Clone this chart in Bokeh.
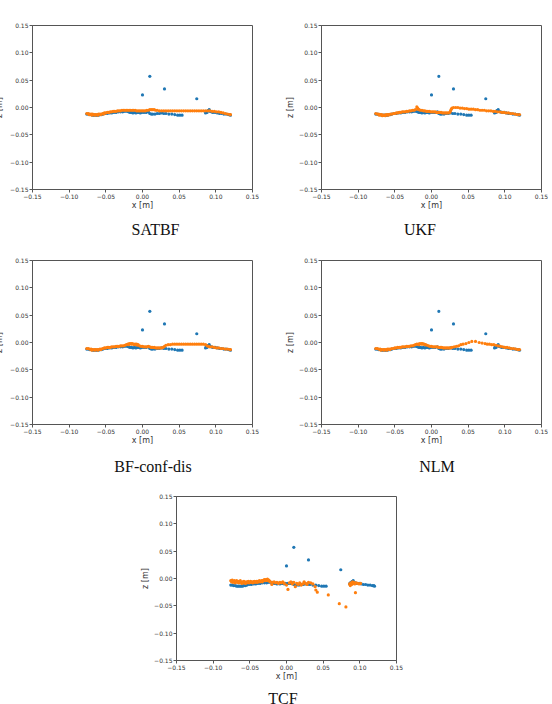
from bokeh.plotting import figure
from bokeh.layouts import column, row
from bokeh.models import FixedTicker, Label, Spacer
from bokeh.embed import file_html
from bokeh.resources import INLINE

# Shared axis ticks (both axes span -0.15 .. 0.15 m)
TICKS = [-0.15, -0.10, -0.05, 0.0, 0.05, 0.10, 0.15]
TICK_LABELS = ["\u22120.15", "\u22120.10", "\u22120.05", "0.00", "0.05", "0.10", "0.15"]

CAPTIONS = ["SATBF", "UKF", "BF-conf-dis", "NLM", "TCF"]

BLUE = "#1f77b4"
ORANGE = "#ff7f0e"

# Reference profile (blue), identical in every panel
REF_X = [-0.076, -0.074, -0.072, -0.070, -0.068, -0.066, -0.064, -0.062, -0.060, -0.058,
         -0.056, -0.054, -0.051, -0.048, -0.045, -0.042, -0.039, -0.036, -0.033, -0.030,
         -0.027, -0.024, -0.021, -0.019, -0.017, -0.015, -0.013, -0.011, -0.009, -0.007,
         -0.005, -0.003, -0.001, 0.002, 0.005, 0.008, 0.010, 0.012, 0.014, 0.017,
         0.020, 0.023, 0.026, 0.029, 0.032, 0.036, 0.040, 0.044, 0.048, 0.051, 0.054,
         0.086, 0.087, 0.088, 0.089, 0.090, 0.091, 0.092, 0.094, 0.096, 0.099,
         0.102, 0.105, 0.108, 0.111, 0.114, 0.117, 0.119, 0.120,
         0.000, 0.010, 0.030, 0.074]
REF_Z = [-0.012, -0.012, -0.013, -0.013, -0.014, -0.014, -0.014, -0.014, -0.014, -0.013,
         -0.013, -0.012, -0.011, -0.011, -0.010, -0.010, -0.009, -0.009, -0.008, -0.008,
         -0.008, -0.007, -0.007, -0.008, -0.009, -0.009, -0.010, -0.009, -0.010, -0.009,
         -0.009, -0.010, -0.009, -0.009, -0.009, -0.008, -0.011, -0.012, -0.012, -0.012,
         -0.011, -0.011, -0.010, -0.011, -0.011, -0.012, -0.012, -0.013, -0.014, -0.014, -0.014,
         -0.010, -0.008, -0.009, -0.006, -0.005, -0.004, -0.007, -0.008, -0.009, -0.009,
         -0.010, -0.011, -0.011, -0.012, -0.012, -0.013, -0.013, -0.014,
         0.023, 0.057, 0.034, 0.016]

# SATBF estimate
SATBF_X = [-0.076, -0.074, -0.072, -0.070, -0.068, -0.066, -0.064, -0.062, -0.060, -0.058,
           -0.056, -0.054, -0.052, -0.050, -0.048, -0.046, -0.044, -0.042, -0.040, -0.038,
           -0.036, -0.034, -0.032, -0.030, -0.028, -0.026, -0.024, -0.022, -0.020, -0.018,
           -0.016, -0.014, -0.012, -0.010, -0.008, -0.006, -0.004, -0.002, 0.000, 0.002,
           0.004, 0.006, 0.008, 0.010, 0.012, 0.014, 0.016, 0.018, 0.020, 0.023,
           0.026, 0.029, 0.032, 0.035, 0.038, 0.041, 0.044, 0.047, 0.050, 0.053,
           0.056, 0.059, 0.062, 0.065, 0.068, 0.071, 0.074, 0.077, 0.080, 0.083,
           0.086, 0.089, 0.092, 0.095, 0.098, 0.101, 0.104, 0.107, 0.110, 0.113,
           0.116, 0.119, 0.120,
           -0.073, -0.069, -0.065, -0.061, -0.057, -0.053]
SATBF_Z = [-0.011, -0.011, -0.012, -0.012, -0.012, -0.013, -0.013, -0.013, -0.012, -0.012,
           -0.012, -0.011, -0.010, -0.010, -0.009, -0.009, -0.008, -0.008, -0.007, -0.007,
           -0.007, -0.006, -0.006, -0.006, -0.005, -0.005, -0.005, -0.005, -0.005, -0.005,
           -0.005, -0.005, -0.005, -0.005, -0.006, -0.006, -0.006, -0.006, -0.006, -0.006,
           -0.006, -0.005, -0.005, -0.004, -0.004, -0.004, -0.004, -0.005, -0.005, -0.006,
           -0.006, -0.006, -0.006, -0.006, -0.006, -0.006, -0.006, -0.006, -0.006, -0.006,
           -0.006, -0.006, -0.006, -0.006, -0.006, -0.006, -0.006, -0.006, -0.006, -0.006,
           -0.006, -0.006, -0.006, -0.007, -0.007, -0.008, -0.008, -0.009, -0.010, -0.011,
           -0.012, -0.013, -0.013,
           -0.013, -0.014, -0.014, -0.014, -0.013, -0.012]

# UKF estimate
UKF_X = [-0.076, -0.074, -0.072, -0.070, -0.068, -0.066, -0.064, -0.062, -0.060, -0.058,
         -0.056, -0.054, -0.052, -0.050, -0.048, -0.046, -0.044, -0.042, -0.040, -0.038,
         -0.036, -0.034, -0.032, -0.030, -0.028, -0.026, -0.024, -0.022, -0.020, -0.019,
         -0.018, -0.017, -0.015, -0.013, -0.011, -0.009, -0.007, -0.005, -0.003, -0.001,
         0.001, 0.003, 0.005, 0.007, 0.009, 0.011, 0.013, 0.015, 0.017, 0.019,
         0.021, 0.023, 0.025, 0.026, 0.027, 0.028, 0.030, 0.033, 0.036, 0.039,
         0.042, 0.045, 0.048, 0.051, 0.054, 0.057, 0.060, 0.063, 0.066, 0.069,
         0.072, 0.075, 0.078, 0.081, 0.084, 0.087, 0.090, 0.093, 0.096, 0.099,
         0.102, 0.105, 0.108, 0.111, 0.114, 0.117, 0.120,
         -0.071, -0.067, -0.063, -0.059]
UKF_Z = [-0.011, -0.012, -0.012, -0.013, -0.013, -0.014, -0.014, -0.013, -0.013, -0.013,
         -0.012, -0.012, -0.011, -0.011, -0.010, -0.010, -0.009, -0.009, -0.008, -0.008,
         -0.008, -0.007, -0.007, -0.006, -0.006, -0.005, -0.005, -0.004, 0.001, -0.001,
         -0.003, -0.004, -0.005, -0.005, -0.006, -0.006, -0.007, -0.007, -0.007, -0.008,
         -0.008, -0.008, -0.008, -0.009, -0.009, -0.009, -0.009, -0.010, -0.010, -0.010,
         -0.010, -0.010, -0.009, -0.006, -0.003, -0.001, 0.000, 0.000, 0.000, -0.001,
         -0.001, -0.002, -0.002, -0.003, -0.003, -0.003, -0.004, -0.004, -0.005, -0.005,
         -0.005, -0.006, -0.006, -0.006, -0.007, -0.007, -0.008, -0.008, -0.009, -0.009,
         -0.010, -0.010, -0.011, -0.011, -0.012, -0.013, -0.013,
         -0.014, -0.015, -0.015, -0.014]

# BF-conf-dis estimate
BFCD_X = [-0.076, -0.074, -0.072, -0.070, -0.068, -0.066, -0.064, -0.062, -0.060, -0.058,
          -0.056, -0.054, -0.052, -0.050, -0.048, -0.046, -0.044, -0.042, -0.040, -0.038,
          -0.036, -0.034, -0.032, -0.030, -0.028, -0.026, -0.024, -0.022, -0.020, -0.018,
          -0.016, -0.014, -0.012, -0.010, -0.008, -0.006, -0.004, -0.002, 0.000, 0.002,
          0.004, 0.006, 0.008, 0.010, 0.012, 0.014, 0.016, 0.018, 0.020, 0.022,
          0.024, 0.026, 0.028, 0.030, 0.032, 0.035, 0.038, 0.041, 0.044, 0.047,
          0.050, 0.053, 0.056, 0.059, 0.062, 0.065, 0.068, 0.071, 0.074, 0.077,
          0.080, 0.083, 0.086, 0.088, 0.090, 0.092, 0.095, 0.098, 0.101, 0.104,
          0.107, 0.110, 0.113, 0.116, 0.119, 0.120,
          -0.019, -0.015, -0.011, -0.007, -0.069, -0.065, -0.061, -0.057]
BFCD_Z = [-0.011, -0.011, -0.012, -0.012, -0.013, -0.013, -0.013, -0.013, -0.013, -0.012,
          -0.012, -0.011, -0.010, -0.010, -0.009, -0.009, -0.009, -0.008, -0.008, -0.008,
          -0.007, -0.007, -0.007, -0.006, -0.006, -0.006, -0.005, -0.004, -0.003, -0.002,
          -0.002, -0.002, -0.003, -0.003, -0.003, -0.004, -0.006, -0.007, -0.007, -0.008,
          -0.008, -0.008, -0.007, -0.008, -0.009, -0.009, -0.009, -0.010, -0.010, -0.010,
          -0.010, -0.010, -0.009, -0.007, -0.005, -0.004, -0.004, -0.003, -0.003, -0.003,
          -0.003, -0.003, -0.003, -0.003, -0.003, -0.003, -0.003, -0.003, -0.003, -0.003,
          -0.003, -0.003, -0.004, -0.006, -0.007, -0.008, -0.008, -0.009, -0.010, -0.010,
          -0.011, -0.011, -0.012, -0.012, -0.013, -0.013,
          -0.004, -0.003, -0.004, -0.005, -0.014, -0.014, -0.014, -0.013]

# NLM estimate
NLM_X = [-0.076, -0.074, -0.072, -0.070, -0.068, -0.066, -0.064, -0.062, -0.060, -0.058,
         -0.056, -0.054, -0.052, -0.050, -0.048, -0.046, -0.044, -0.042, -0.040, -0.038,
         -0.036, -0.034, -0.032, -0.030, -0.028, -0.026, -0.024, -0.022, -0.020, -0.018,
         -0.016, -0.014, -0.012, -0.010, -0.008, -0.006, -0.004, -0.002, 0.000, 0.002,
         0.004, 0.006, 0.008, 0.010, 0.012, 0.014, 0.016, 0.018, 0.020, 0.022,
         0.024, 0.026, 0.028, 0.031, 0.034, 0.037, 0.040, 0.043, 0.047, 0.051,
         0.055, 0.060, 0.065, 0.069, 0.073, 0.076, 0.079, 0.082, 0.085, 0.088,
         0.091, 0.094, 0.097, 0.100, 0.103, 0.106, 0.109, 0.112, 0.115, 0.118, 0.120,
         -0.017, -0.013, -0.009, -0.069, -0.065, -0.061, -0.057]
NLM_Z = [-0.011, -0.011, -0.012, -0.012, -0.013, -0.013, -0.013, -0.013, -0.012, -0.012,
         -0.012, -0.011, -0.011, -0.010, -0.010, -0.009, -0.009, -0.009, -0.008, -0.008,
         -0.008, -0.007, -0.007, -0.007, -0.006, -0.006, -0.005, -0.004, -0.003, -0.003,
         -0.002, -0.002, -0.002, -0.003, -0.004, -0.005, -0.006, -0.007, -0.007, -0.008,
         -0.008, -0.008, -0.008, -0.009, -0.009, -0.009, -0.010, -0.010, -0.010, -0.010,
         -0.010, -0.010, -0.009, -0.008, -0.007, -0.006, -0.004, -0.003, -0.002, 0.000,
         0.002, 0.002, 0.000, -0.001, -0.002, -0.003, -0.003, -0.004, -0.004, -0.005,
         -0.006, -0.007, -0.008, -0.009, -0.009, -0.010, -0.011, -0.011, -0.012, -0.013, -0.013,
         -0.004, -0.003, -0.004, -0.014, -0.014, -0.014, -0.013]

# TCF estimate
TCF_X = [-0.076, -0.075, -0.074, -0.073, -0.072, -0.071, -0.070, -0.069, -0.068, -0.067,
         -0.066, -0.065, -0.064, -0.063, -0.062, -0.061, -0.060, -0.059, -0.058, -0.057,
         -0.056, -0.055, -0.054, -0.053, -0.052, -0.051, -0.050, -0.049, -0.048, -0.047,
         -0.046, -0.045, -0.044, -0.043, -0.042, -0.041, -0.040, -0.039, -0.038, -0.037,
         -0.036, -0.035, -0.034, -0.033, -0.032, -0.031, -0.030, -0.029, -0.028, -0.027,
         -0.026, -0.025, -0.024, -0.023, -0.022, -0.020, -0.019, -0.017, -0.015, -0.013,
         -0.011, -0.009, -0.007, -0.005, -0.003, 0.000, 0.002, 0.004, 0.006, 0.008,
         0.010, 0.012, 0.014, 0.016, 0.018, 0.020, 0.022, 0.024, 0.026, 0.028,
         0.030, 0.033, 0.036, 0.039, 0.040, 0.042, 0.057, 0.072, 0.081,
         0.086, 0.087, 0.088, 0.089, 0.090, 0.091, 0.092, 0.093, 0.094, 0.095,
         0.097, 0.099, 0.101]
TCF_Z = [-0.004, -0.006, -0.003, -0.007, -0.005, -0.004, -0.008, -0.006, -0.004, -0.007,
         -0.005, -0.008, -0.006, -0.004, -0.007, -0.009, -0.006, -0.008, -0.005, -0.007,
         -0.009, -0.006, -0.008, -0.006, -0.005, -0.008, -0.007, -0.005, -0.007, -0.006,
         -0.008, -0.006, -0.005, -0.007, -0.006, -0.005, -0.007, -0.005, -0.006, -0.004,
         -0.006, -0.005, -0.004, -0.006, -0.004, -0.003, -0.002, -0.004, -0.002, -0.003,
         -0.001, -0.004, -0.003, -0.005, -0.006, -0.011, -0.007, -0.006, -0.008, -0.007,
         -0.009, -0.007, -0.008, -0.006, -0.009, -0.012, -0.020, -0.008, -0.006, -0.010,
         -0.007, -0.015, -0.009, -0.011, -0.008, -0.012, -0.010, -0.006, -0.009, -0.011,
         -0.007, -0.008, -0.010, -0.015, -0.021, -0.025, -0.030, -0.046, -0.052,
         -0.010, -0.013, -0.008, -0.011, -0.006, -0.009, -0.007, -0.010, -0.026, -0.008,
         -0.009, -0.010, -0.009]


def make_panel(est_x, est_z, width, height, border, ylabel_standoff=1):
    left, right, top, bottom = border
    p = figure(width=width, height=height, title=None,
               x_range=(-0.15, 0.15), y_range=(-0.15, 0.15),
               output_backend="svg", toolbar_location=None,
               min_border_left=left, min_border_right=right,
               min_border_top=top, min_border_bottom=bottom,
               x_axis_label="x [m]", y_axis_label="z [m]")
    p.xgrid.visible = False
    p.ygrid.visible = False
    p.outline_line_color = "#555555"
    p.outline_line_width = 1
    p.background_fill_color = "white"
    p.border_fill_color = "white"
    for ax in (p.xaxis[0], p.yaxis[0]):
        ax.ticker = FixedTicker(ticks=TICKS, minor_ticks=[])
        ax.major_label_overrides = dict(zip(TICKS, TICK_LABELS))
        ax.major_label_text_font = "DejaVu Sans"
        ax.major_label_text_font_size = "6px"
        ax.major_label_text_color = "#333333"
        ax.major_label_standoff = 1
        ax.major_tick_out = 3
        ax.major_tick_in = 0
        ax.major_tick_line_color = "#555555"
        ax.minor_tick_line_color = None
        ax.axis_line_color = "#555555"
        ax.axis_label_text_font = "DejaVu Sans"
        ax.axis_label_text_font_size = "8px"
        ax.axis_label_text_font_style = "normal"
        ax.axis_label_text_color = "#333333"
    p.xaxis[0].axis_label_standoff = -1
    p.yaxis[0].axis_label_standoff = ylabel_standoff
    p.scatter(REF_X, REF_Z, size=3.2, marker="circle", fill_color=BLUE, line_color=None)
    p.scatter(est_x, est_z, size=3.2, marker="circle", fill_color=ORANGE, line_color=None)
    return p


def caption_strip(height, items):
    # A bare strip whose data units equal screen pixels, holding the sub-figure captions;
    # each caption is anchored at the top of its text box
    s = figure(width=552, height=height, title=None,
               x_range=(0, 552), y_range=(0, height),
               output_backend="svg", toolbar_location=None,
               x_axis_location=None, y_axis_location=None, min_border=0)
    s.xgrid.visible = False
    s.ygrid.visible = False
    s.outline_line_color = None
    for text, cx, top in items:
        s.add_layout(Label(x=cx, y=top, text=text, text_align="center",
                           text_baseline="top", text_font="Liberation Serif",
                           text_font_size="16px", text_color="#111111"))
    return s


p1 = make_panel(SATBF_X, SATBF_Z, 284, 213, (40, 24, 25, 24), ylabel_standoff=3)
p1.margin = (0, 0, 0, -8)
p2 = make_panel(UKF_X, UKF_Z, 276, 213, (45, 11, 25, 24))
cap1 = caption_strip(27, [(CAPTIONS[0], 155, 19.3), (CAPTIONS[1], 419.5, 19.6)])

p3 = make_panel(BFCD_X, BFCD_Z, 284, 213, (40, 24, 20, 29), ylabel_standoff=3)
p3.margin = (0, 0, 0, -8)
p4 = make_panel(NLM_X, NLM_Z, 276, 213, (45, 11, 20, 29))
cap2 = caption_strip(27, [(CAPTIONS[2], 152.5, 23), (CAPTIONS[3], 436.5, 22.3)])

p5 = make_panel(TCF_X, TCF_Z, 276, 203, (38, 18, 16, 23))
cap3 = caption_strip(21, [(CAPTIONS[4], 282.5, 14.3)])

layout = column(row(p1, p2), cap1,
                row(p3, p4), cap2,
                row(Spacer(width=138, height=203), p5), cap3)

open("out.html", "w").write(file_html(layout, INLINE))
